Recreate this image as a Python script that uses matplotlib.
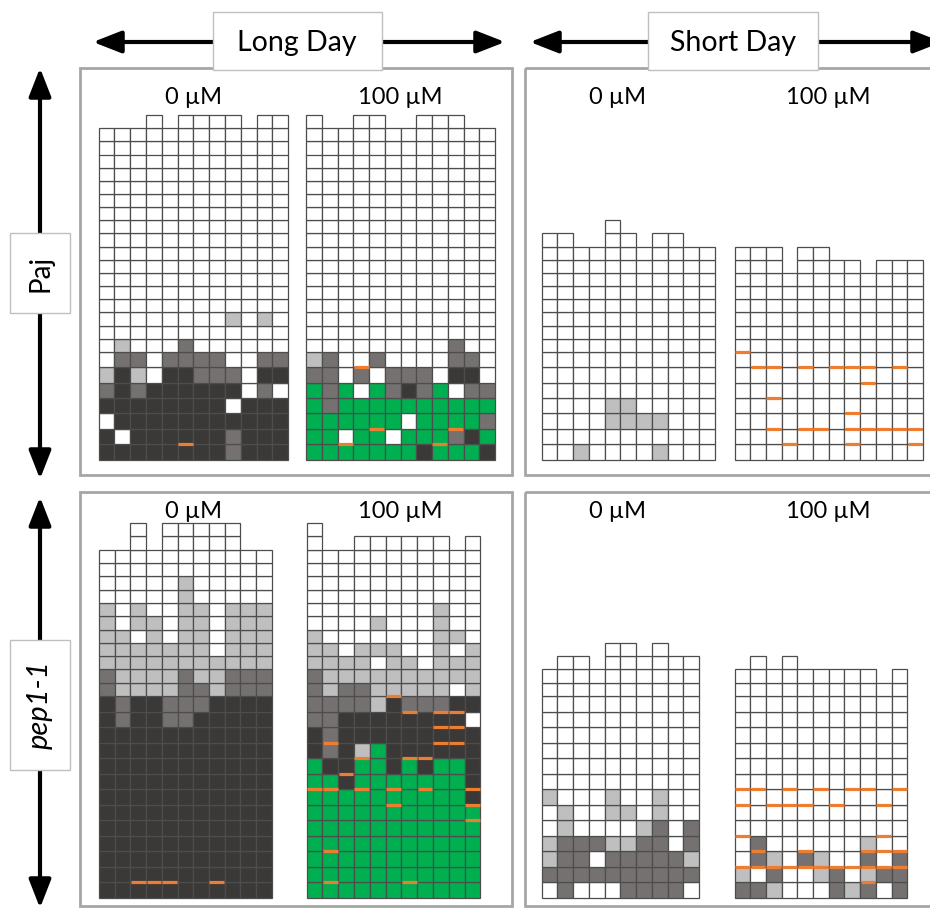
import matplotlib
matplotlib.use("Agg")
import matplotlib.pyplot as plt
from matplotlib.patches import Rectangle, FancyArrowPatch

plt.rcParams['font.family'] = ['Lato', 'DejaVu Sans']

# ------------------------------------------------------------------ data
# cell codes: W blanco, L gris claro, M gris medio, D gris oscuro, G verde
# cells: one string per row, bottom row first; rows not listed are white
# orange: (column, boundary) -> orange mark on the top edge of row boundary-1
photoperiods = ["Long Day", "Short Day"]
genotypes = ["Paj", "pep1-1"]
conc_labels = ["0 µM", "100 µM"]

paj_ld_0_heights = [24, 24, 24, 25, 24, 25, 25, 25, 25, 24, 25, 25]
paj_ld_0_cells = [
    "DDDDDDDDMDDD",
    "DWDDDDDDMDDD",
    "WDDDDDDDDDDD",
    "DDDDDDDDWDDD",
    "MDMDDDDDDWMW",
    "LDLWDDMMMWDD",
    "WMMWMMMMWWMM",
    "WLWWWMWWWWWW",
    "WWWWWWWWWWWW",
    "WWWWWWWWLWLW",
]
paj_ld_0_orange = [(5, 1)]

paj_ld_100_heights = [25, 24, 24, 25, 25, 24, 24, 25, 25, 25, 24, 24]
paj_ld_100_cells = [
    "GGGGGGGDGGGD",
    "GGWGGWGGGMDG",
    "GGGGGGWGGGGM",
    "GMGGGGGGGGGG",
    "GMGWGMDMGWMM",
    "MMWMWMMMWDDW",
    "LMWWMWWWWMMW",
    "WWWWWWWWWMWW",
]
paj_ld_100_orange = [(2, 1), (8, 1), (4, 2), (9, 2), (3, 6)]

paj_sd_0_heights = [16, 16, 15, 15, 17, 16, 15, 16, 16, 15, 15]
paj_sd_0_cells = [
    "WWLWWWWLWWW",
    "WWWWWWWWWWW",
    "WWWWLLLLWWW",
    "WWWWLLWWWWW",
]
paj_sd_0_orange = []

paj_sd_100_heights = [15, 15, 15, 13, 15, 15, 14, 14, 13, 14, 14, 14]
paj_sd_100_cells = []
paj_sd_100_orange = [(0, 7),
                     (1, 6), (2, 6), (4, 6), (6, 6), (7, 6), (8, 6), (10, 6),
                     (8, 5), (2, 4), (7, 3),
                     (2, 2), (4, 2), (5, 2), (7, 2), (8, 2), (9, 2), (10, 2), (11, 2),
                     (3, 1), (7, 1), (11, 1)]

pep_ld_0_heights = [24, 24, 26, 24, 26, 26, 26, 26, 26, 24, 24]
pep_ld_0_cells = ["DDDDDDDDDDD"] * 11 + [
    "DMDDMMDDDDD",
    "DMDDMMMDDDD",
    "MLLLLMMLMMM",
    "MLLLLMLLMMM",
    "LLLLLLLLLLL",
    "LLLLLLLWLLL",
    "LLWLWLLWLLL",
    "LWLLWLLWLLL",
    "LWLWWLLWLLL",
    "WWWWWLWWWWW",
    "WWWWWLWWWWW",
]
pep_ld_0_orange = [(2, 1), (3, 1), (4, 1), (7, 1)]

pep_ld_100_heights = [26, 24, 24, 25, 25, 25, 25, 25, 25, 24, 25]
pep_ld_100_cells = ["GGGGGGGGGGG"] * 6 + [
    "GGGGGGGGGGD",
    "GGDGGGGGGGD",
    "GDDGGDGDGGD",
    "DMDLGDDDDDD",
    "DMDDDDDDDDD",
    "MMDDDDDDDDW",
    "MMMMLDMMMDD",
    "MLMMLLLLLWL",
    "MLLLLLLLLLL",
    "LLLLWLLWLLL",
    "LLWLLLWWLWL",
    "LWWWWWWWLLW",
    "WWWWLWWWLWW",
    "WWWWWWWWLWW",
]
pep_ld_100_orange = [(1, 1), (6, 1), (1, 3), (10, 5), (5, 6), (10, 6),
                     (0, 7), (1, 7), (3, 7), (5, 7), (7, 7), (10, 7),
                     (2, 8), (3, 9), (6, 9), (7, 9),
                     (1, 10), (8, 10), (9, 10), (8, 11), (9, 11),
                     (6, 12), (8, 12), (9, 12), (5, 13)]

pep_sd_0_heights = [15, 16, 16, 15, 17, 17, 16, 17, 16, 16]
pep_sd_0_cells = [
    "WMWWWMMMMW",
    "MMMMMMMMMM",
    "LMMWMMMMML",
    "LMMMLLMMWM",
    "WLWWWWLMWM",
    "WLWWLLWLWW",
    "LWWWLWWLWW",
]
pep_sd_0_orange = []

pep_sd_100_heights = [15, 16, 15, 16, 15, 15, 15, 15, 15, 14, 15]
pep_sd_100_cells = [
    "MMLWWWMLMWM",
    "LWMWWLMWLMM",
    "WMLWMLWWMWM",
    "WMWWWWWWLWW",
]
pep_sd_100_orange = [(8, 1)] + [(c, 2) for c in range(11)] + \
    [(1, 3), (4, 3), (8, 3), (9, 3), (10, 3),
     (0, 4), (9, 4),
     (0, 6), (2, 6), (3, 6), (4, 6), (6, 6), (9, 6),
     (0, 7), (1, 7), (3, 7), (5, 7), (7, 7), (8, 7), (10, 7)]

colors = {'W': '#ffffff', 'L': '#bfbfbf', 'M': '#767171', 'D': '#3b3838', 'G': '#00b050'}
orange = '#ed7d31'

# ------------------------------------------------------------------ layout (pixels)
W, H = 930, 909
# filas de cada banda: (base y, nº filas bajas, alto fila baja, alto fila alta)
band_paj = (459.7, 7, 15.4, 13.16)
band_pep = (897.5, 13, 15.5, 13.3)
# (heights, cells, orange, left x, cell w, band)
panels = [
    (paj_ld_0_heights, paj_ld_0_cells, paj_ld_0_orange, 98.5, 15.8, band_paj),
    (paj_ld_100_heights, paj_ld_100_cells, paj_ld_100_orange, 306, 15.75, band_paj),
    (paj_sd_0_heights, paj_sd_0_cells, paj_sd_0_orange, 541.5, 15.75, band_paj),
    (paj_sd_100_heights, paj_sd_100_cells, paj_sd_100_orange, 734.5, 15.7, band_paj),
    (pep_ld_0_heights, pep_ld_0_cells, pep_ld_0_orange, 99, 15.7, band_pep),
    (pep_ld_100_heights, pep_ld_100_cells, pep_ld_100_orange, 306.5, 15.8, band_pep),
    (pep_sd_0_heights, pep_sd_0_cells, pep_sd_0_orange, 541.5, 15.75, band_pep),
    (pep_sd_100_heights, pep_sd_100_cells, pep_sd_100_orange, 734.5, 15.7, band_pep),
]
label_x = [193, 400, 617, 828]
label_y = [97, 511]


def row_edges(n, n_low, h_low, h_high):
    edges = [0.0]
    for r in range(n):
        edges.append(edges[-1] + (h_low if r < n_low else h_high))
    return edges


fig = plt.figure(figsize=(W / 100, H / 100), dpi=100)
bg = fig.add_axes([0, 0, 1, 1])
bg.set_xlim(0, W)
bg.set_ylim(H, 0)
bg.axis('off')

# marcos de los paneles
for x, y, w, h in [(80, 68, 432, 407), (525, 68, 420, 407), (80, 492, 432, 414), (525, 492, 420, 414)]:
    bg.add_patch(Rectangle((x, y), w, h, fill=False, ec='#a6a6a6', lw=2))

# flechas
arrow_kw = dict(arrowstyle='<|-|>,head_length=1.15,head_width=0.45', mutation_scale=15,
                lw=3, color='black', shrinkA=0, shrinkB=0)
for p0, p1 in [((93, 42), (505, 42)), ((530, 42), (942, 42)),
               ((40, 68), (40, 479)), ((40, 497), (40, 908))]:
    bg.add_patch(FancyArrowPatch(p0, p1, **arrow_kw))

# cajas de texto
box_kw = dict(fc='white', ec='#bfbfbf', lw=1, zorder=3)
bg.add_patch(Rectangle((213, 12), 169, 58, **box_kw))
bg.add_patch(Rectangle((648, 12), 170, 58, **box_kw))
bg.add_patch(Rectangle((10, 233), 60, 80, **box_kw))
bg.add_patch(Rectangle((10, 640), 60, 130, **box_kw))
bg.text(297, 43, photoperiods[0], ha='center', va='center', fontsize=20.5, zorder=4)
bg.text(733, 43, photoperiods[1], ha='center', va='center', fontsize=20.5, zorder=4)
bg.text(40, 273, genotypes[0], ha='center', va='center', rotation=90, fontsize=20, zorder=4)
bg.text(40, 705, genotypes[1], ha='center', va='center', rotation=90, fontsize=21,
        style='italic', zorder=4)

for ly in label_y:
    for i, lx in enumerate(label_x):
        bg.text(lx, ly, conc_labels[i % 2], ha='center', va='center', fontsize=17)

# rejillas
for heights, cells, marks, x0, cw, (yb, n_low, h_low, h_high) in panels:
    ncol, nrow = len(heights), max(heights)
    edges = row_edges(nrow, n_low, h_low, h_high)
    ax = fig.add_axes([x0 / W, 1 - yb / H, ncol * cw / W, edges[-1] / H])
    ax.set_xlim(0, ncol)
    ax.set_ylim(0, edges[-1])
    ax.patch.set_alpha(0)
    ax.set_axis_off()
    for c, h in enumerate(heights):
        for r in range(h):
            code = cells[r][c] if r < len(cells) else 'W'
            ax.add_patch(Rectangle((c, edges[r]), 1, edges[r + 1] - edges[r],
                                   fc=colors[code], ec='#4d4d4d', lw=0.9, clip_on=False))
    for c, b in marks:
        ax.plot([c + 0.03, c + 0.97], [edges[b], edges[b]], color=orange, lw=2.3,
                solid_capstyle='butt', clip_on=False, zorder=5)

fig.savefig("out.png", dpi=100)
